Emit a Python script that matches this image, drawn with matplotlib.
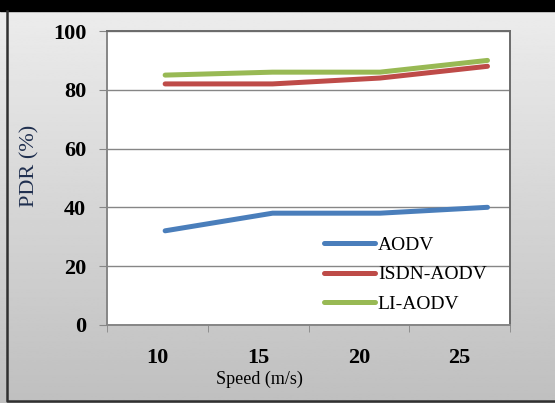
import numpy as np
import matplotlib.pyplot as plt
from matplotlib.ticker import FixedLocator

speeds = ['10', '15', '20', '25']
aodv = [32, 38, 38, 40]
isdn_aodv = [82, 82, 84, 88]
li_aodv = [85, 86, 86, 90]
y_ticks = [0, 20, 40, 60, 80, 100]

plt.rcParams['font.family'] = ['Liberation Serif', 'DejaVu Serif']

fig = plt.figure(figsize=(5.55, 4.03), dpi=100)

# gray gradient background, black band on top, dark frame left and bottom
bg = fig.add_axes([0, 0, 1, 1], zorder=-10)
grad = np.linspace(0.93, 0.75, 256).reshape(-1, 1)
bg.imshow(grad, cmap='gray', vmin=0, vmax=1, aspect='auto',
          extent=[0, 1, 0, 1], origin='upper')
bg.add_patch(plt.Rectangle((0, 0.972), 1, 0.03, color='black'))
bg.plot([0.013, 0.013, 1], [0.972, 0.006, 0.006], color='#303030', lw=1.8)
bg.set_xlim(0, 1)
bg.set_ylim(0, 1)
bg.axis('off')

ax = fig.add_axes([0.193, 0.194, 0.726, 0.729])
ax.set_facecolor('white')
x = np.arange(len(speeds)) + 0.5

ax.set_xlim(0, 4)
ax.set_ylim(0, 100)
ax.set_yticks(y_ticks)
ax.set_xticks(x)
ax.set_xticklabels(speeds)
ax.xaxis.set_minor_locator(FixedLocator(np.arange(0, 5)))
ax.tick_params(axis='x', which='major', length=0, pad=17)
ax.tick_params(axis='x', which='minor', length=5, color='#868686', direction='out')
ax.tick_params(axis='y', length=6, color='#868686', direction='out', pad=9)
for lbl in ax.get_xticklabels() + ax.get_yticklabels():
    lbl.set_fontweight('bold')
    lbl.set_fontsize(16)
ax.grid(axis='y', color='#868686', lw=1)
ax.set_axisbelow(True)
for s in ax.spines.values():
    s.set_color('#868686')
    s.set_linewidth(1.4)
ax.spines['top'].set_color('#6b6b6b')
ax.spines['right'].set_color('#6b6b6b')

ax.set_ylabel('PDR (%)', fontsize=16, color='#1f2f4f')
ax.yaxis.set_label_coords(-0.168, 0.54)
ax.set_xlabel('Speed (m/s)', fontsize=13)
ax.xaxis.set_label_coords(0.377, -0.155)

# the series sit slightly stretched against the category labels in the original
lx = ax.twiny()
lx.set_xlim(-0.54, 3.21)
lx.axis('off')
idx = np.arange(len(speeds))
lx.plot(idx, aodv, color='#4a7ebb', lw=3.6, solid_capstyle='round', label='AODV')
lx.plot(idx, isdn_aodv, color='#be4b48', lw=3.6, solid_capstyle='round', label='ISDN-AODV')
lx.plot(idx, li_aodv, color='#98b954', lw=3.6, solid_capstyle='round', label='LI-AODV')

lx.legend(loc='lower left', bbox_to_anchor=(0.52, 0.015), frameon=False,
          fontsize=14, handlelength=2.6, handletextpad=0.15,
          labelspacing=0.6, borderaxespad=0)

fig.savefig('out.png', dpi=100)
